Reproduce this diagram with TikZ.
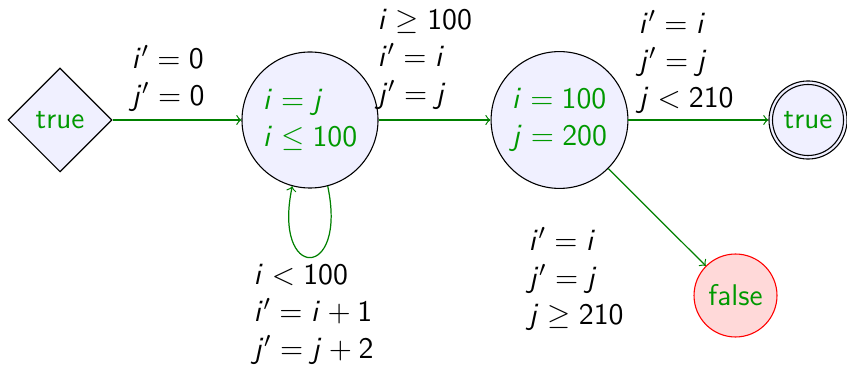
\documentclass[tikz,border=0pt]{standalone}
\usetikzlibrary{shapes.geometric}
\usepackage[OT1,TU]{fontenc}
\DeclareSymbolFont{operators}{OT1}{cmss}{m}{n}
\DeclareSymbolFont{sfslanted}{OT1}{cmss}{m}{sl}
\DeclareMathSymbol{i}{\mathalpha}{sfslanted}{`i}
\DeclareMathSymbol{j}{\mathalpha}{sfslanted}{`j}
\colorlet{stategreen}{green!60!black}
\colorlet{edgegreen}{green!50!black}
\tikzset{
  state/.style={circle, draw=black, fill=blue!6, text=stategreen, align=left, inner sep=0pt, line width=0.4pt},
  arr/.style={->, draw=edgegreen, line width=0.45pt},
  lbl/.style={anchor=west, align=left, inner sep=0pt, text=black},
}
\begin{document}
\begin{tikzpicture}[x=0.3676pt, y=-0.3676pt, font=\fontsize{11}{13.6}\selectfont\sffamily]
\useasboundingbox (0,0) rectangle (847,365);
\node[diamond, aspect=1, draw=black, fill=blue!6, text=stategreen, minimum width=38.2pt, minimum height=38.2pt, inner sep=0pt] (init) at (60,120) {true};
\node[state, minimum size=50pt] (c1) at (310,120) {$i = j$\\$i \le 100$};
\node[state, minimum size=50.3pt] (c2) at (559.5,120) {$i = 100$\\$j = 200$};
\node[state, minimum size=28.7pt] (t) at (808,120) {};
\node[circle, draw=black, inner sep=0pt, minimum size=26.1pt, text=stategreen] (tin) at (t.center) {true};
\node[state, draw=red, fill=red!15, minimum size=30.5pt] (f) at (735.5,295.5) {false};

\draw[arr] (init) -- (c1);
\draw[arr] (c1) -- (c2);
\draw[arr] (c2) -- (t);
\draw[arr] (c2) -- (f);
\draw[arr] (c1.-75) .. controls +(20,95) and +(-20,95) .. (c1.-105);

\node[lbl] (l1) at (131,78) {$i' = 0$\\$j' = 0$};
\node[lbl] (l2) at (377,59.5) {$i \ge 100$\\$i' = i$\\$j' = j$};
\node[lbl] (l3) at (638,62) {$i' = i$\\$j' = j$\\$j < 210$};
\node[lbl] (l4) at (253,314) {$i < 100$\\$i' = i + 1$\\$j' = j + 2$};
\node[lbl] (l5) at (528,279) {$i' = i$\\$j' = j$\\$j \ge 210$};
\end{tikzpicture}
\end{document}
